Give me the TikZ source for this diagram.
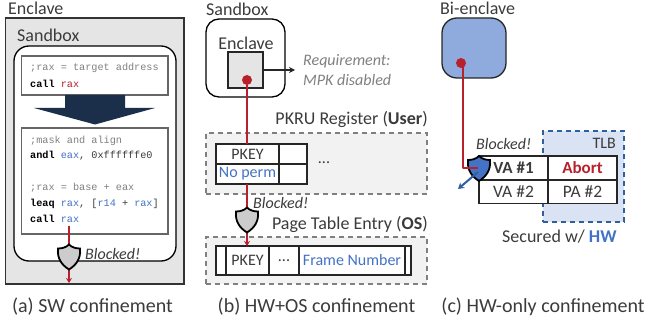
\documentclass[tikz,border=0pt]{standalone}
\usepackage{fontspec}
\setmainfont{Carlito}
\setmonofont{Liberation Mono}
\usetikzlibrary{arrows.meta}

\definecolor{txtgray}{HTML}{3B3B3B}
\definecolor{cmtgray}{HTML}{808080}
\definecolor{secred}{HTML}{B8202C}
\definecolor{regblue}{HTML}{4472C4}
\definecolor{darknavy}{HTML}{1B2F4B}
\definecolor{hwblue}{HTML}{8FAADC}
\definecolor{tlbblue}{HTML}{D9E3F3}
\definecolor{dashblue}{HTML}{2F5F9E}

\newcommand{\kw}[1]{\textbf{\textcolor{black}{#1}}}
\newcommand{\cmt}[1]{\textcolor{cmtgray}{#1}}
\newcommand{\reg}[1]{\textcolor{regblue}{#1}}

\tikzset{
  lbl/.style={font=\fontsize{18}{20}\selectfont,text=txtgray,inner sep=0pt},
  small/.style={font=\fontsize{16}{18}\selectfont,text=txtgray,inner sep=0pt},
  blocked/.style={font=\itshape\fontsize{16}{18}\selectfont,text=txtgray,inner sep=0pt,anchor=west},
  caption/.style={font=\fontsize{20}{22}\selectfont,text=txtgray,inner sep=0pt},
  code/.style={font=\ttfamily\fontsize{10.2}{12}\selectfont,text=txtgray,inner sep=0pt,anchor=west},
  cell/.style={draw=black!85,line width=1.3pt,fill=white,inner sep=0pt,outer sep=0pt,
    font=\fontsize{16}{18}\selectfont,text=txtgray},
  codebox/.style={draw=black!60,line width=1.2pt,fill=white,inner sep=0pt,outer sep=0pt},
  dashbox/.style={draw=black!50,dash pattern=on 5pt off 4pt,line width=1.2pt,fill=black!5,inner sep=0pt,outer sep=0pt},
  redline/.style={draw=secred,line width=2pt},
  reddot/.style={circle,fill=secred,minimum size=10pt,inner sep=0pt,outer sep=0pt},
  pics/shield/.style={code={
    \draw[black,line width=1.8pt,fill=#1] (0,-12.5) .. controls (-3,-9.5) and (-7,-8.5) .. (-11,-8.5)
      .. controls (-12,2) and (-7,8) .. (0,12.5) .. controls (7,8) and (12,2) .. (11,-8.5)
      .. controls (7,-8.5) and (3,-9.5) .. (0,-12.5) -- cycle;
  }},
}

\begin{document}
\begin{tikzpicture}[x=1pt,y=-1pt]
\useasboundingbox (0,0) rectangle (648,323);

% (a) SW confinement
\node[lbl,anchor=west] (enclavea) at (8,8) {Enclave};
\node[draw=black!80,line width=1.3pt,fill=black!10,minimum width=178.5pt,minimum height=266pt,inner sep=0pt,outer sep=0pt] (outera) at (94.75,151) {};
\node[lbl,anchor=west] (sandboxa) at (17,35) {Sandbox};
\node[draw=black,line width=1.3pt,fill=white,rounded corners=15pt,minimum width=162pt,minimum height=215pt,inner sep=0pt,outer sep=0pt] (innera) at (95,153.5) {};
\node[codebox,minimum width=146.5pt,minimum height=39pt] (targetbox) at (94.8,75.5) {};
\node[code] (l1) at (30,68) {\cmt{;rax = target address}};
\node[code] (l2) at (30,84) {\kw{call} \textcolor{secred}{rax}};
\fill[darknavy] (65,95) -- (125,95) -- (125,108) -- (155,108) -- (95,124.5) -- (34,108) -- (65,108) -- cycle;
\node[codebox,minimum width=146.5pt,minimum height=106pt] (maskbox) at (94.8,181) {};
\node[code] (l3) at (30,141) {\cmt{;mask and align}};
\node[code] (l4) at (30,156) {\kw{andl} \reg{eax}, 0xffffffe0};
\node[code] (l5) at (30,188) {\cmt{;rax = base + eax}};
\node[code] (l6) at (30,204) {\kw{leaq} \reg{rax}, [\reg{r14} + \reg{rax}]};
\node[code] (l7) at (30,219) {\kw{call} \reg{rax}};
\coordinate (starta) at (69,226);
\coordinate (enda) at (69,283);
\draw[redline,-{Stealth[length=5pt,width=6pt]}] (starta) -- (enda);
\pic at (69,257) {shield=black!20};
\node[blocked] (blockeda) at (85,254) {Blocked!};
\node[caption] (capa) at (92.5,307) {(a) SW confinement};

% (b) HW+OS confinement
\node[lbl,anchor=west] (sandboxb) at (206,9) {Sandbox};
\node[draw=black,line width=1.3pt,fill=white,rounded corners=13pt,minimum width=79pt,minimum height=78pt,inner sep=0pt,outer sep=0pt] (outerb) at (245.5,58) {};
\node[lbl] (enclaveb) at (246,43) {Enclave};
\node[draw=black!85,line width=1.3pt,fill=black!10,minimum width=35pt,minimum height=36pt,inner sep=0pt,outer sep=0pt] (squareb) at (245.5,70) {};
\node[reddot] (dotb) at (247,80) {};
\coordinate (reqend) at (295,70);
\draw[black!85,line width=1.5pt,-{Stealth[length=6pt,width=6pt]}] (squareb.east) -- (reqend);
\node[small,font=\itshape\fontsize{16}{18}\selectfont,text=black!50,anchor=west] (req1) at (303,61) {Requirement:};
\node[small,font=\itshape\fontsize{16}{18}\selectfont,text=black!50,anchor=west] (req2) at (303,80) {MPK disabled};
\node[lbl,anchor=east] (pkrulbl) at (428,119) {PKRU Register (\textbf{User})};
\node[dashbox,minimum width=221pt,minimum height=61pt] (pkrubox) at (316.5,163.5) {};
\node[cell,minimum width=63pt,minimum height=20pt] (pkey) at (247.5,154) {PKEY};
\node[cell,minimum width=28pt,minimum height=20pt] (pkeyr) at (293,154) {};
\node[cell,minimum width=63pt,minimum height=20pt,text=regblue] (noperm) at (247.5,174) {No perm};
\node[cell,minimum width=28pt,minimum height=20pt] (nopermr) at (293,174) {};
\node[small] (dotsb) at (324,163) {...};
\node[lbl,anchor=east] (ptelbl) at (428,224) {Page Table Entry (\textbf{OS})};
\node[dashbox,minimum width=221pt,minimum height=47pt] (ptebox) at (316.5,260.5) {};
\node[cell,minimum width=10pt,minimum height=29pt] (pte0) at (221,260.5) {};
\node[cell,minimum width=43pt,minimum height=29pt] (pte1) at (247.5,260.5) {PKEY};
\node[cell,minimum width=30pt,minimum height=29pt] (pte2) at (284,260.5) {...};
\node[cell,minimum width=106pt,minimum height=29pt,text=regblue] (pte3) at (352,260.5) {Frame Number};
\node[cell,minimum width=6pt,minimum height=29pt] (pte4) at (408,260.5) {};
\draw[redline] (dotb) -- (pkey.north -| dotb);
\draw[redline,-{Stealth[length=5pt,width=6pt]}] (dotb |- noperm.south) -- (dotb |- pte1.north);
\pic at (247,220) {shield=black!20};
\node[blocked] (blockedb) at (253,203) {Blocked!};
\node[caption] (capb) at (316.5,307) {(b) HW+OS confinement};

% (c) HW-only confinement
\node[lbl,anchor=west] (bienc) at (440,8) {Bi-enclave};
\node[draw=black!85,line width=1.3pt,fill=hwblue,rounded corners=15pt,minimum width=64pt,minimum height=60pt,inner sep=0pt,outer sep=0pt] (bibox) at (474,48) {};
\node[draw=dashblue,dash pattern=on 5pt off 4pt,line width=1.2pt,fill=tlbblue,minimum width=81pt,minimum height=91pt,inner sep=0pt,outer sep=0pt] (tlb) at (583.5,176.5) {};
\node[small,anchor=east] (tlblbl) at (616,143) {TLB};
\node[cell,minimum width=69pt,minimum height=23pt,font=\fontsize{17.5}{19}\selectfont] (va2) at (513.5,192) {VA \#2};
\node[cell,minimum width=69pt,minimum height=23pt,font=\fontsize{17.5}{19}\selectfont] (pa2) at (582.5,192) {PA \#2};
\node[cell,line width=1.8pt,minimum width=69pt,minimum height=24pt,font=\bfseries\fontsize{17}{19}\selectfont] (va1) at (513.5,168) {VA \#1};
\node[cell,line width=1.8pt,minimum width=69pt,minimum height=24pt,text=secred,font=\bfseries\fontsize{17}{19}\selectfont] (abort) at (582.5,168) {Abort};
\node[reddot] (dotc) at (461,63) {};
\coordinate (hitc) at (478,168.5);
\coordinate (bouncea) at (478,172);
\coordinate (bounceb) at (458,189);
\pic at (479,168.5) {shield=regblue};
\draw[redline,line join=round] (463,63) -- (463,168.5) -- (hitc);
\draw[dashblue,line width=2pt,-{Stealth[length=6pt,width=7pt]}] (bouncea) -- (bounceb);
\node[blocked] (blockedc) at (476,144) {Blocked!};
\node[lbl,anchor=west] (secured) at (502,237) {Secured w/ \textcolor{regblue}{\textbf{HW}}};
\node[caption] (capc) at (543,307) {(c) HW-only confinement};
\end{tikzpicture}
\end{document}
